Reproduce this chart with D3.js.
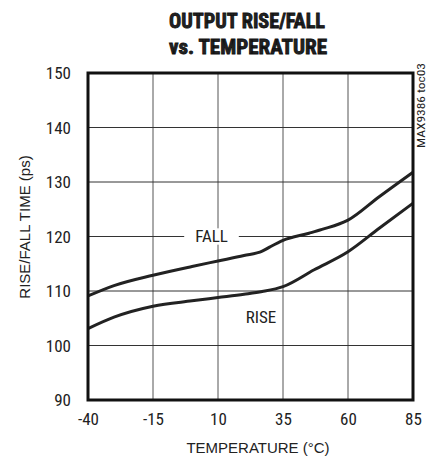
<!DOCTYPE html>
<html>
<head>
<meta charset="utf-8">
<script src="https://cdn.jsdelivr.net/npm/d3@7"></script>
<style>
  body { margin: 0; background: #fff; }
  svg text { font-family: "Roboto Condensed", "Liberation Sans Narrow", "Liberation Sans", sans-serif; fill: #222; }
  svg text.wide { font-family: "Liberation Sans", Arial, sans-serif; }
</style>
</head>
<body>
<svg id="chart"></svg>
<script>
// data
const xTicks = [-40, -15, 10, 35, 60, 85];
const yTicks = [90, 100, 110, 120, 130, 140, 150];
const fallTemp = [-40, -30, -15, 0, 10, 20, 27, 30, 35, 45, 50, 60, 72, 85];
const fallTime = [109.1, 111.0, 112.9, 114.5, 115.5, 116.5, 117.3, 118.1, 119.3, 120.6, 121.3, 123.0, 127.3, 131.8];
const riseTemp = [-40, -30, -15, 0, 10, 20, 27, 35, 47, 60, 72, 85];
const riseTime = [103.1, 105.2, 107.2, 108.2, 108.8, 109.4, 109.9, 110.8, 113.9, 117.2, 121.5, 126.1];

const config = {
    width: 432, height: 457,
    margin: {top: 73, right: 19, bottom: 57, left: 88}
};

const svg = d3.select('#chart')
    .attr('width', config.width)
    .attr('height', config.height);

const innerW = config.width - config.margin.left - config.margin.right;
const innerH = config.height - config.margin.top - config.margin.bottom;

const chart = svg.append('g')
    .attr('transform', `translate(${config.margin.left},${config.margin.top})`);

const xScale = d3.scaleLinear().domain([-40, 85]).range([0, innerW]);
const yScale = d3.scaleLinear().domain([90, 150]).range([innerH, 0]);

// gridlines
chart.append('g').selectAll('line')
    .data(xTicks.slice(1, -1))
    .join('line')
    .attr('x1', d => xScale(d)).attr('x2', d => xScale(d))
    .attr('y1', 0).attr('y2', innerH)
    .attr('stroke', '#555').attr('stroke-width', 1);
chart.append('g').selectAll('line')
    .data(yTicks.slice(1, -1))
    .join('line')
    .attr('x1', 0).attr('x2', innerW)
    .attr('y1', d => yScale(d)).attr('y2', d => yScale(d))
    .attr('stroke', '#333').attr('stroke-width', 1);

// axes (labels only), plain hyphen for negatives
const xAxis = d3.axisBottom(xScale).tickValues(xTicks).tickFormat(d => String(d)).tickSize(0).tickPadding(13);
const yAxis = d3.axisLeft(yScale).tickValues(yTicks).tickFormat(d => String(d)).tickSize(0).tickPadding(17);

chart.append('g')
    .attr('transform', `translate(0,${innerH})`)
    .call(xAxis)
    .call(g => g.select('.domain').remove())
    .selectAll('text').style('font-size', '17px').attr('fill', '#222');

chart.append('g')
    .call(yAxis)
    .call(g => g.select('.domain').remove())
    .selectAll('text').style('font-size', '17px').attr('fill', '#222').attr('dy', '0.35em');

// curves
const line = d3.line()
    .x(d => xScale(d[0]))
    .y(d => yScale(d[1]))
    .curve(d3.curveMonotoneX);

chart.append('path')
    .datum(d3.zip(fallTemp, fallTime))
    .attr('d', line)
    .attr('fill', 'none').attr('stroke', '#222').attr('stroke-width', 3);

chart.append('path')
    .datum(d3.zip(riseTemp, riseTime))
    .attr('d', line)
    .attr('fill', 'none').attr('stroke', '#222').attr('stroke-width', 3);

// curve labels
chart.append('rect')
    .attr('x', xScale(-3)).attr('y', yScale(121.5))
    .attr('width', xScale(18) - xScale(-3)).attr('height', yScale(118.5) - yScale(121.5))
    .attr('fill', '#fff');
chart.append('text')
    .attr('x', xScale(7.5)).attr('y', yScale(120))
    .attr('dy', '0.35em').attr('text-anchor', 'middle')
    .style('font-size', '17px').text('FALL');
chart.append('text')
    .attr('x', xScale(26.5)).attr('y', yScale(105.3))
    .attr('dy', '0.35em').attr('text-anchor', 'middle')
    .style('font-size', '17px').text('RISE');

// frame
chart.append('rect')
    .attr('width', innerW).attr('height', innerH)
    .attr('fill', 'none').attr('stroke', '#111').attr('stroke-width', 3);

// titles
svg.append('text')
    .attr('x', 247).attr('y', 28).attr('text-anchor', 'middle')
    .style('font-size', '21px').style('font-weight', 'bold')
    .style('stroke', '#111').style('stroke-width', 0.8)
    .attr('textLength', 156).attr('lengthAdjust', 'spacingAndGlyphs')
    .text('OUTPUT RISE/FALL');
svg.append('text')
    .attr('x', 248).attr('y', 54).attr('text-anchor', 'middle')
    .style('font-size', '21px').style('font-weight', 'bold')
    .style('stroke', '#111').style('stroke-width', 0.8)
    .attr('textLength', 158).attr('lengthAdjust', 'spacingAndGlyphs')
    .text('vs. TEMPERATURE');

svg.append('text')
    .attr('class', 'wide')
    .attr('x', 258).attr('y', 453)
    .attr('text-anchor', 'middle')
    .style('font-size', '15px')
    .text('TEMPERATURE (°C)');

svg.append('text')
    .attr('class', 'wide')
    .attr('transform', 'translate(25,227) rotate(-90)')
    .attr('text-anchor', 'middle').attr('dy', '0.35em')
    .style('font-size', '15px')
    .text('RISE/FALL TIME (ps)');

svg.append('text')
    .attr('transform', 'translate(421,148) rotate(-90)')
    .attr('text-anchor', 'start').attr('dy', '0.35em')
    .style('font-size', '10px')
    .attr('textLength', 85).attr('lengthAdjust', 'spacingAndGlyphs')
    .text('MAX9386 toc03');
</script>
</body>
</html>
